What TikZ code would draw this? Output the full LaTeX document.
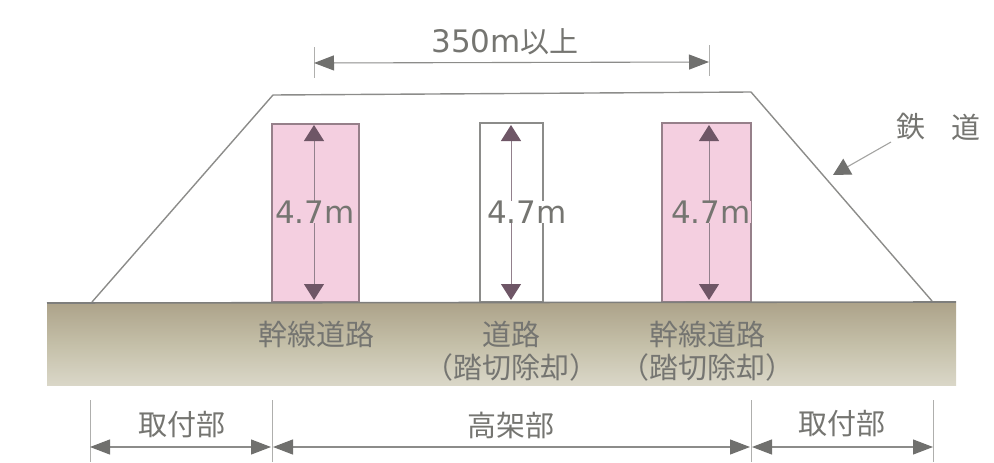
\documentclass[tikz,border=0pt]{standalone}
\usepackage{fontspec}
\setmainfont{Noto Sans CJK JP}[ItalicFont=Noto Sans CJK JP]
\newfontfamily\latfont{DejaVu Sans}
\usetikzlibrary{arrows.meta}
\definecolor{linegray}{HTML}{8C8C8A}
\definecolor{txtgray}{HTML}{757571}
\definecolor{pinkbox}{HTML}{F4CFE0}
\definecolor{pinkedge}{HTML}{96808A}
\definecolor{plum}{HTML}{6E5666}
\definecolor{groundtop}{HTML}{ADA38A}
\definecolor{groundmid}{HTML}{C4BFA8}
\definecolor{groundbot}{HTML}{DAD7C8}
\tikzset{
  x=1pt,y=-1pt,
  lbl/.style={text=txtgray,font=\fontsize{29}{34}\selectfont,inner sep=0pt,align=center},
  lenlbl/.style={text=txtgray,font=\latfont\fontsize{31}{34}\selectfont,inner sep=0pt},
  dim/.style={draw=linegray,line width=1.1pt,{Triangle[length=20pt,width=15pt,color=linegray!80!black]}-{Triangle[length=20pt,width=15pt,color=linegray!80!black]}},
  tick/.style={draw=linegray!70,line width=1pt},
  hgt/.style={draw=plum!75,line width=1pt,{Triangle[length=16pt,width=20pt,color=plum]}-{Triangle[length=16pt,width=20pt,color=plum]}},
  road/.style={draw=pinkedge,line width=1.2pt},
}
\begin{document}
\begin{tikzpicture}
\useasboundingbox (0,0) rectangle (994,463);
% ground
\shade[top color=groundtop,bottom color=groundbot,middle color=groundmid] (47,303) rectangle (956,385);
% roads
\node[road,fill=pinkbox,minimum width=87pt,minimum height=178pt,inner sep=0pt] (r1) at (315.5,213) {};
\node[road,draw=linegray,fill=white,minimum width=63pt,minimum height=179pt,inner sep=0pt] (r2) at (511.5,212.5) {};
\node[road,fill=pinkbox,minimum width=89pt,minimum height=179pt,inner sep=0pt] (r3) at (706.5,212.5) {};
% embankment
\coordinate (tA) at (92,302);
\coordinate (tB) at (273,95);
\coordinate (tC) at (751,92);
\coordinate (tD) at (932,301);
\draw[linegray,line width=1.4pt] (tA) -- (tB) -- (tC) -- (tD);
\coordinate (gL) at (47,303);
\coordinate (gR) at (956,302);
\draw[draw=linegray!90!black,line width=1.6pt] (gL) -- (gR);
% height arrows
\foreach \n/\x in {a/314,b/511,c/709}{
  \coordinate (\n t) at (\x,125);
  \coordinate (\n b) at (\x,300);
  \draw[hgt] (\n t) -- (\n b);
}
\node[lenlbl,fill=pinkbox,inner xsep=0pt] (h1) at (315,212) {4.7m};
\node[lenlbl,fill=white,inner xsep=0pt] (h2) at (527,212) {4.7m};
\node[lenlbl,fill=pinkbox,inner xsep=0pt] (h3) at (711,212) {4.7m};
% top dimension
\coordinate (d1t) at (314,47); \coordinate (d1b) at (314,78);
\coordinate (d2t) at (709,45); \coordinate (d2b) at (709,76);
\draw[tick] (d1t) -- (d1b);
\draw[tick] (d2t) -- (d2b);
\coordinate (dL) at (314,63); \coordinate (dR) at (709,62);
\draw[dim] (dL) -- (dR);
\node[lenlbl] (top) at (505,42) {350m\fontsize{29}{34}\selectfont\rmfamily 以上};
% railway label
\node[lbl] (rail) at (911,127) {鉄};
\node[lbl] (rail2) at (966,127) {道};
\coordinate (railtip) at (833,175);
\coordinate (railtail) at (891,142);
\draw[draw=linegray!80,line width=1.1pt,-{Triangle[length=17pt,width=18pt,color=linegray!80!black]}] (railtail) -- (railtip);
% ground labels
\node[lbl] (g1) at (316,334) {幹線道路};
\node[lbl] (g2) at (511,334) {道路};
\node[lbl] (g2b) at (511,367) {（踏切除却）};
\node[lbl] (g3) at (707,334) {幹線道路};
\node[lbl] (g3b) at (707,367) {（踏切除却）};
% bottom dimensions
\foreach \n/\x in {p/90,q/272,r/751,s/933}{
  \coordinate (\n t) at (\x,400);
  \coordinate (\n b) at (\x,462);
  \draw[tick] (\n t) -- (\n b);
  \coordinate (\n m) at (\x,447);
}
\draw[dim] (pm) -- ([xshift=-1pt]qm);
\draw[dim] ([xshift=1pt]qm) -- ([xshift=-1pt]rm);
\draw[dim] ([xshift=1pt]rm) -- (sm);
\node[lbl] (b1) at (182,425) {取付部};
\node[lbl] (b2) at (511,425) {高架部};
\node[lbl] (b3) at (842,424) {取付部};
\end{tikzpicture}
\end{document}
